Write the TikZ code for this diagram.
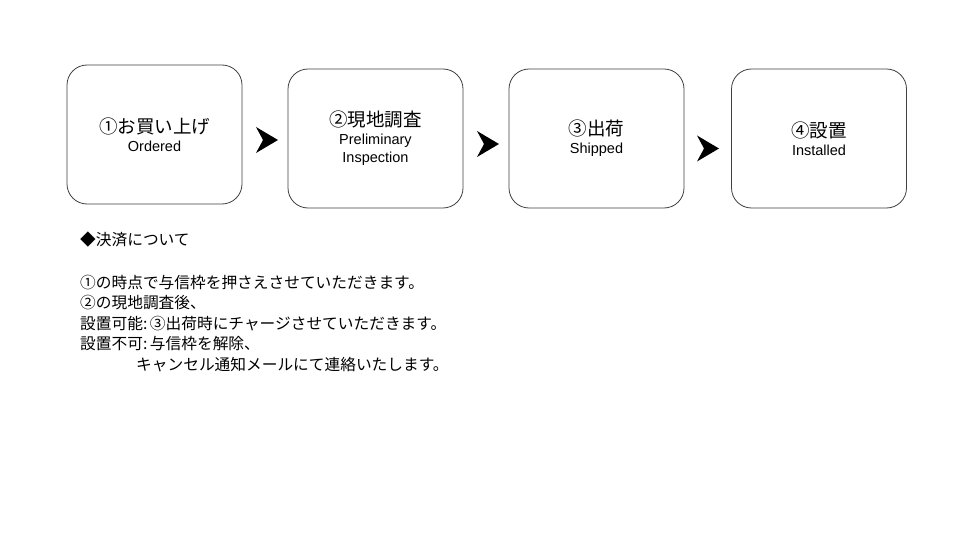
\documentclass[tikz,border=0pt]{standalone}
\usepackage{fontspec}
\setmainfont{Liberation Sans}
\newfontfamily\jp{Noto Sans CJK JP}
\tikzset{
  stepbox/.style={draw=black!75, line width=0.8pt, rounded corners=20pt,
    minimum width=175pt, minimum height=139pt, inner sep=0pt, align=center,
    font=\fontsize{14.5}{18}\selectfont},
  chev/.style={fill=black},
  bodyline/.style={anchor=base west, inner sep=0pt, font=\jp\fontsize{15.7}{20}\selectfont}
}
\newcommand{\jt}[1]{{\jp\fontsize{18.5}{19}\selectfont #1}}
\newcommand{\chevat}[1]{\fill[chev] ([shift={(11,0)}]#1) -- ([shift={(-11,-13)}]#1) -- ([shift={(-4,0)}]#1) -- ([shift={(-11,13)}]#1) -- cycle;}
\begin{document}
\begin{tikzpicture}[x=1pt,y=-1pt]
\useasboundingbox[fill=white] (0,0) rectangle (960,540);
\node[stepbox] (b1) at (154.5,134.5) {\jt{①お買い上げ}\\Ordered};
\node[stepbox] (b2) at (375.5,138.5) {\jt{②現地調査}\\Preliminary\\Inspection};
\node[stepbox] (b3) at (596.5,138.5) {\jt{③出荷}\\Shipped};
\node[stepbox] (b4) at (819,138.5) {\jt{④設置}\\Installed};
\coordinate (a1) at (267,140);
\coordinate (a2) at (488,144);
\coordinate (a3) at (708,148.5);
\chevat{a1}
\chevat{a2}
\chevat{a3}
\node[bodyline] (l1) at (80,245.5) {◆決済について};
\node[bodyline] (l2) at (80,288) {①の時点で与信枠を押さえさせていただきます。};
\node[bodyline] (l3) at (80,308.5) {②の現地調査後、};
\node[bodyline] (l4) at (80,329) {設置可能:\,③出荷時にチャージさせていただきます。};
\node[bodyline] (l5) at (80,349.5) {設置不可:\,与信枠を解除、};
\node[bodyline] (l6) at (136,370) {キャンセル通知メールにて連絡いたします。};
\end{tikzpicture}
\end{document}
